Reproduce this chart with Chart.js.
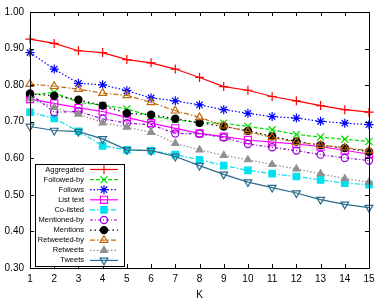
<!DOCTYPE html>
<html>
<head>
<meta charset="utf-8">
<script src="https://cdn.jsdelivr.net/npm/chart.js@4/dist/chart.umd.min.js"></script>
<style>
  html, body { margin: 0; padding: 0; background: #fff; }
  #wrap { width: 389px; height: 305px; }
</style>
</head>
<body>
<div id="wrap"><canvas id="c"></canvas></div>
<script>
var kValues = [1, 2, 3, 4, 5, 6, 7, 8, 9, 10, 11, 12, 13, 14, 15];
var yTicks = [0.30, 0.40, 0.50, 0.60, 0.70, 0.80, 0.90, 1.00];

var aggregated  = [0.926, 0.914, 0.894, 0.889, 0.870, 0.861, 0.844, 0.821, 0.796, 0.786, 0.769, 0.757, 0.744, 0.733, 0.726];
var followedBy  = [0.773, 0.780, 0.753, 0.745, 0.735, 0.715, 0.705, 0.698, 0.696, 0.687, 0.678, 0.665, 0.658, 0.652, 0.646];
var follows     = [0.889, 0.844, 0.805, 0.801, 0.785, 0.765, 0.757, 0.746, 0.733, 0.723, 0.714, 0.710, 0.701, 0.696, 0.692];
var listText    = [0.762, 0.750, 0.738, 0.728, 0.712, 0.696, 0.682, 0.668, 0.659, 0.650, 0.644, 0.639, 0.632, 0.622, 0.611];
var coListed    = [0.726, 0.709, 0.674, 0.634, 0.623, 0.621, 0.610, 0.596, 0.580, 0.567, 0.558, 0.550, 0.541, 0.532, 0.528];
var mentionedBy = [0.777, 0.726, 0.728, 0.708, 0.696, 0.692, 0.668, 0.667, 0.657, 0.639, 0.630, 0.621, 0.610, 0.601, 0.594];
var mentions    = [0.776, 0.771, 0.760, 0.744, 0.723, 0.719, 0.708, 0.697, 0.687, 0.675, 0.660, 0.646, 0.636, 0.628, 0.618];
var retweetedBy = [0.803, 0.797, 0.789, 0.778, 0.772, 0.753, 0.730, 0.712, 0.689, 0.673, 0.657, 0.644, 0.636, 0.629, 0.621];
var retweets    = [0.763, 0.739, 0.721, 0.697, 0.685, 0.671, 0.641, 0.623, 0.608, 0.596, 0.583, 0.571, 0.558, 0.544, 0.535];
var tweets      = [0.687, 0.676, 0.673, 0.653, 0.623, 0.621, 0.605, 0.580, 0.556, 0.535, 0.520, 0.505, 0.487, 0.474, 0.465];

var NONE = 'rgba(0,0,0,0)';
var FONT = '"Liberation Sans", Arial, sans-serif';

// label, data, colour, dash, marker, radius, filled, rotation
var series = [
  ['Aggregated',   aggregated,  '#ff0000', [],              'cross',    4.5, false, 0],
  ['Followed-by',  followedBy,  '#00e000', [4, 2],          'crossRot', 5,   false, 0],
  ['Follows',      follows,     '#0000ff', [1.5, 2],        'star',     4.5, false, 0],
  ['List text',    listText,    '#ff00ff', [],              'rect',     5,   false, 0],
  ['Co-listed',    coListed,    '#00e0ee', [5, 2, 1.5, 2],  'rect',     4.5, true,  0],
  ['Mentioned-by', mentionedBy, '#9400d3', [3, 2, 1, 2],    'circle',   3.6, false, 0],
  ['Mentions',     mentions,    '#000000', [1.5, 3],        'circle',   3.6, true,  0],
  ['Retweeted-by', retweetedBy, '#c06a10', [5, 2, 1.5, 2],  'triangle', 4.5, false, 0],
  ['Retweets',     retweets,    '#909090', [1.5, 2],        'triangle', 4,   true,  0],
  ['Tweets',       tweets,      '#2b6c8c', [],              'triangle', 4.5, false, 180]
];

var datasets = series.map(function(s, i) {
  return {
    label: s[0],
    data: s[1],
    borderColor: s[2],
    borderWidth: 1.2,
    borderDash: s[3],
    pointStyle: s[4],
    pointRadius: s[5],
    pointRotation: s[7],
    pointBorderColor: s[2],
    pointBackgroundColor: s[6] ? s[2] : NONE,
    pointBorderWidth: 1.2,
    tension: 0,
    clip: false,
    order: series.length - i
  };
});

function drawMarker(ctx, s, x, y) {
  ctx.save();
  ctx.setLineDash([]);
  ctx.strokeStyle = s[2];
  ctx.fillStyle = s[6] ? s[2] : NONE;
  ctx.lineWidth = 1.2;
  Chart.helpers.drawPoint(ctx, {
    pointStyle: s[4], radius: s[5], rotation: s[7], borderWidth: 1.2
  }, x, y);
  ctx.restore();
}

var framePlugin = {
  id: 'frame',
  afterDatasetsDraw: function(chart) {
    var ctx = chart.ctx;
    var a = chart.chartArea;
    var xs = chart.scales.x, ys = chart.scales.y;
    var tl = 4;
    ctx.save();
    ctx.strokeStyle = '#000';
    ctx.lineWidth = 1;
    ctx.setLineDash([]);
    ctx.beginPath();
    ctx.rect(Math.round(a.left) + 0.5, Math.round(a.top) + 0.5,
             Math.round(a.right - a.left), Math.round(a.bottom - a.top));
    kValues.forEach(function(k, i) {
      var px = Math.round(xs.getPixelForValue(i)) + 0.5;
      ctx.moveTo(px, a.bottom); ctx.lineTo(px, a.bottom - tl);
      ctx.moveTo(px, a.top); ctx.lineTo(px, a.top + tl);
    });
    yTicks.forEach(function(v) {
      var py = Math.round(ys.getPixelForValue(v)) + 0.5;
      ctx.moveTo(a.left, py); ctx.lineTo(a.left + tl, py);
      ctx.moveTo(a.right, py); ctx.lineTo(a.right - tl, py);
    });
    ctx.stroke();
    ctx.restore();
  },
  afterDraw: function(chart) {
    // gnuplot-style key: right aligned text, then line sample with marker
    var ctx = chart.ctx;
    var bx = 35, by = 164, bw = 89, bh = 102;
    var rowH = 10.1, y0 = 169.5;
    ctx.save();
    ctx.fillStyle = '#fff';
    ctx.fillRect(bx, by, bw, bh);
    ctx.strokeStyle = '#000';
    ctx.lineWidth = 1;
    ctx.strokeRect(bx + 0.5, by + 0.5, bw, bh);
    ctx.font = '7.5px ' + FONT;
    ctx.textAlign = 'right';
    ctx.textBaseline = 'middle';
    series.forEach(function(s, i) {
      var y = y0 + i * rowH;
      ctx.fillStyle = '#000';
      ctx.fillText(s[0], 84, y);
      ctx.save();
      ctx.strokeStyle = s[2];
      ctx.lineWidth = 1.2;
      ctx.setLineDash(s[3]);
      ctx.beginPath();
      ctx.moveTo(90, y);
      ctx.lineTo(118, y);
      ctx.stroke();
      ctx.restore();
      drawMarker(ctx, s, 104, y);
    });
    ctx.restore();
  }
};

new Chart(document.getElementById('c'), {
  type: 'line',
  data: { labels: kValues, datasets: datasets },
  options: {
    responsive: true,
    maintainAspectRatio: false,
    animation: false,
    layout: { padding: { top: 11, right: 20, left: 0, bottom: 0 } },
    plugins: {
      legend: { display: false },
      tooltip: { enabled: false }
    },
    scales: {
      x: {
        type: 'category',
        offset: false,
        grid: { display: false, drawTicks: false },
        border: { display: false },
        ticks: { color: '#000', font: { family: FONT, size: 10 }, padding: 5, maxRotation: 0, autoSkip: false },
        title: { display: true, text: 'K', color: '#000', font: { family: FONT, size: 10 }, padding: { top: 0, bottom: 4 } },
        afterFit: function(scale) { scale.height = 37; }
      },
      y: {
        min: 0.3,
        max: 1.0,
        grid: { display: false, drawTicks: false },
        border: { display: false },
        ticks: {
          stepSize: 0.1,
          color: '#000',
          font: { family: FONT, size: 10 },
          padding: 6,
          callback: function(v) { return v.toFixed(2); }
        },
        afterFit: function(scale) { scale.width = 30; }
      }
    }
  },
  plugins: [framePlugin]
});
</script>
</body>
</html>
